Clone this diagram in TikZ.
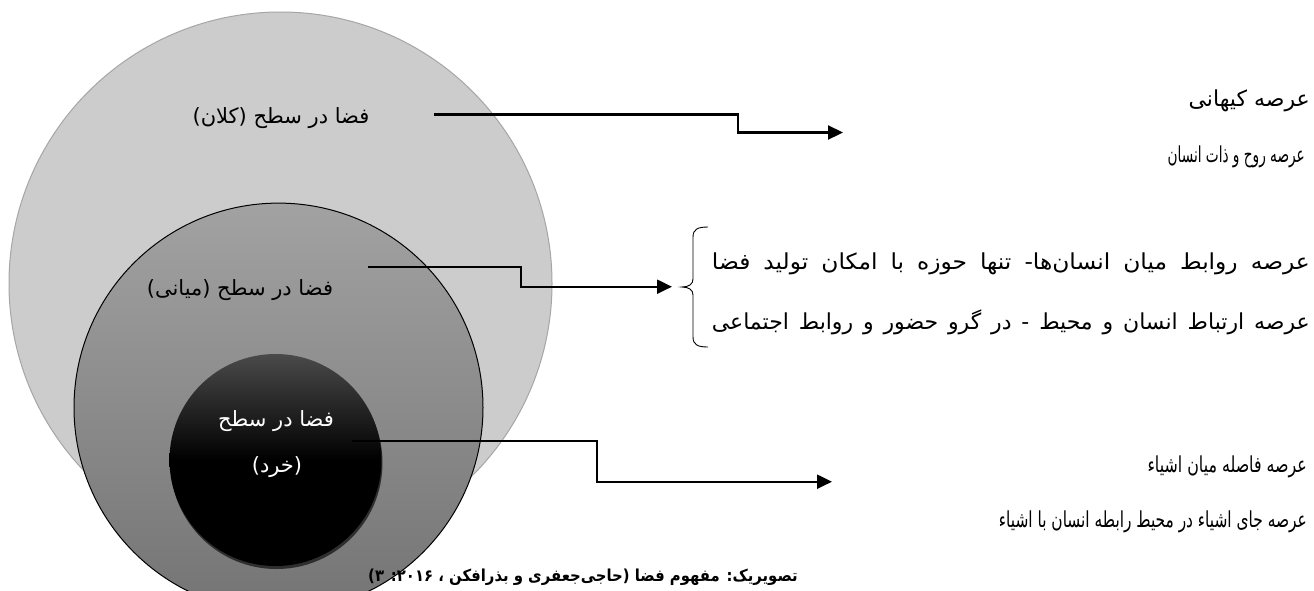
\documentclass[tikz,border=0pt]{standalone}
\usepackage{fontspec}
\usepackage{graphicx}
\usetikzlibrary{arrows.meta}
\TeXXeTstate=1
\newfontfamily\fa[Script=Arabic]{DejaVu Sans}
\definecolor{bigfill}{HTML}{CCCCCC}
\definecolor{bigedge}{HTML}{A6A6A6}
\definecolor{midtop}{HTML}{A2A2A2}
\definecolor{midbot}{HTML}{747474}
\definecolor{smalltop}{HTML}{4A4A4A}
\definecolor{shadowc}{HTML}{2E2E2E}
\pgfdeclareverticalshading{smallshade}{100bp}{color(0bp)=(black); color(50bp)=(black); color(75bp)=(smalltop); color(100bp)=(smalltop)}
\tikzset{
  ring/.style={circle, inner sep=0pt, outer sep=0pt},
  lbl/.style={inner sep=0pt, font=\fa\fontsize{21}{25}\selectfont},
  txt/.style={inner sep=0pt, anchor=east, font=\fa\fontsize{22}{26}\selectfont},
  conn/.style={line width=2.2pt, -{Triangle[length=15pt,width=14pt]}},
  bracestyle/.style={line width=0.9pt}
}
\begin{document}
\begin{tikzpicture}[x=1pt,y=-1pt]
\useasboundingbox (0,0) rectangle (1314,590);
\clip (0,0) rectangle (1314,590);
\fill[white] (0,0) rectangle (1314,590);

% circles
\node[ring, minimum size=543pt, fill=bigfill, draw=bigedge, line width=1pt] (big) at (280.5,283.5) {};
\node[ring, minimum size=409pt, top color=midtop, bottom color=midbot, draw=black, line width=1pt] (mid) at (278.5,407.6) {};
\node[ring, minimum size=212pt, fill=shadowc] (shadow) at (276.5,463) {};
\node[ring, minimum size=212pt, shading=smallshade] (small) at (275.5,460) {};

% circle labels
\node[lbl] (l1) at (281,118) {\beginR فضا در سطح (کلان)\endR};
\node[lbl] (l2) at (240,290) {\beginR فضا در سطح (میانی)\endR};
\node[lbl, text=white] (l3a) at (276,421) {\beginR فضا در سطح\endR};
\node[lbl, text=white] (l3b) at (277,467) {\beginR (خرد)\endR};

% connector end points
\coordinate (s1) at (434,114.5);
\coordinate (e1) at (843,132.5);
\coordinate (s2) at (368,267);
\coordinate (e2) at (672,286.7);
\coordinate (s3) at (352,440.7);
\coordinate (e3) at (832,481.7);

\draw[conn] (s1) -- ++(304,0) |- (e1);
\draw[conn] (s2) -- ++(152.7,0) |- (e2);
\draw[conn] (s3) -- ++(245,0) |- (e3);

% brace
\coordinate (bt) at (708,227);
\coordinate (bm) at (682,287);
\coordinate (bb) at (708,347);
\draw[bracestyle] (bt) .. controls (698,227) and (693,229) .. (693,237)
  -- (693,279) .. controls (693,284) and (689,287) .. (bm)
  .. controls (689,287) and (693,290) .. (693,295)
  -- (693,337) .. controls (693,345) and (698,347) .. (bb);

% right texts
\node[txt] (r1) at (1310,101) {\beginR عرصه کیهانی\endR};
\node[txt] (r2) at (1305,157) {\scalebox{0.62}[1]{\beginR عرصه روح و ذات انسان\endR}};
\node[txt] (r3) at (1310,264) {\scalebox{1.06}[1]{\hbox to 564pt{\beginR عرصه روابط میان انسان‌ها- تنها حوزه با امکان تولید فضا\endR}}};
\node[txt] (r4) at (1310,322) {\hbox to 598pt{\beginR عرصه ارتباط انسان و محیط - در گرو حضور و روابط اجتماعی\endR}};
\node[txt] (r5) at (1307,467) {\scalebox{0.72}[1]{\beginR عرصه فاصله میان اشیاء\endR}};
\node[txt] (r6) at (1307,522) {\scalebox{0.7}[1]{\beginR عرصه جای اشیاء در محیط رابطه انسان با اشیاء\endR}};

% caption
\node[inner sep=0pt, font=\fa\bfseries\fontsize{16.5}{20}\selectfont] (cap) at (583,577) {\scalebox{0.9}[1]{\beginR تصویریک: مفهوم فضا (حاجی‌جعفری و بذرافکن ، ۲۰۱۶: ۳)\endR}};
\end{tikzpicture}
\end{document}
